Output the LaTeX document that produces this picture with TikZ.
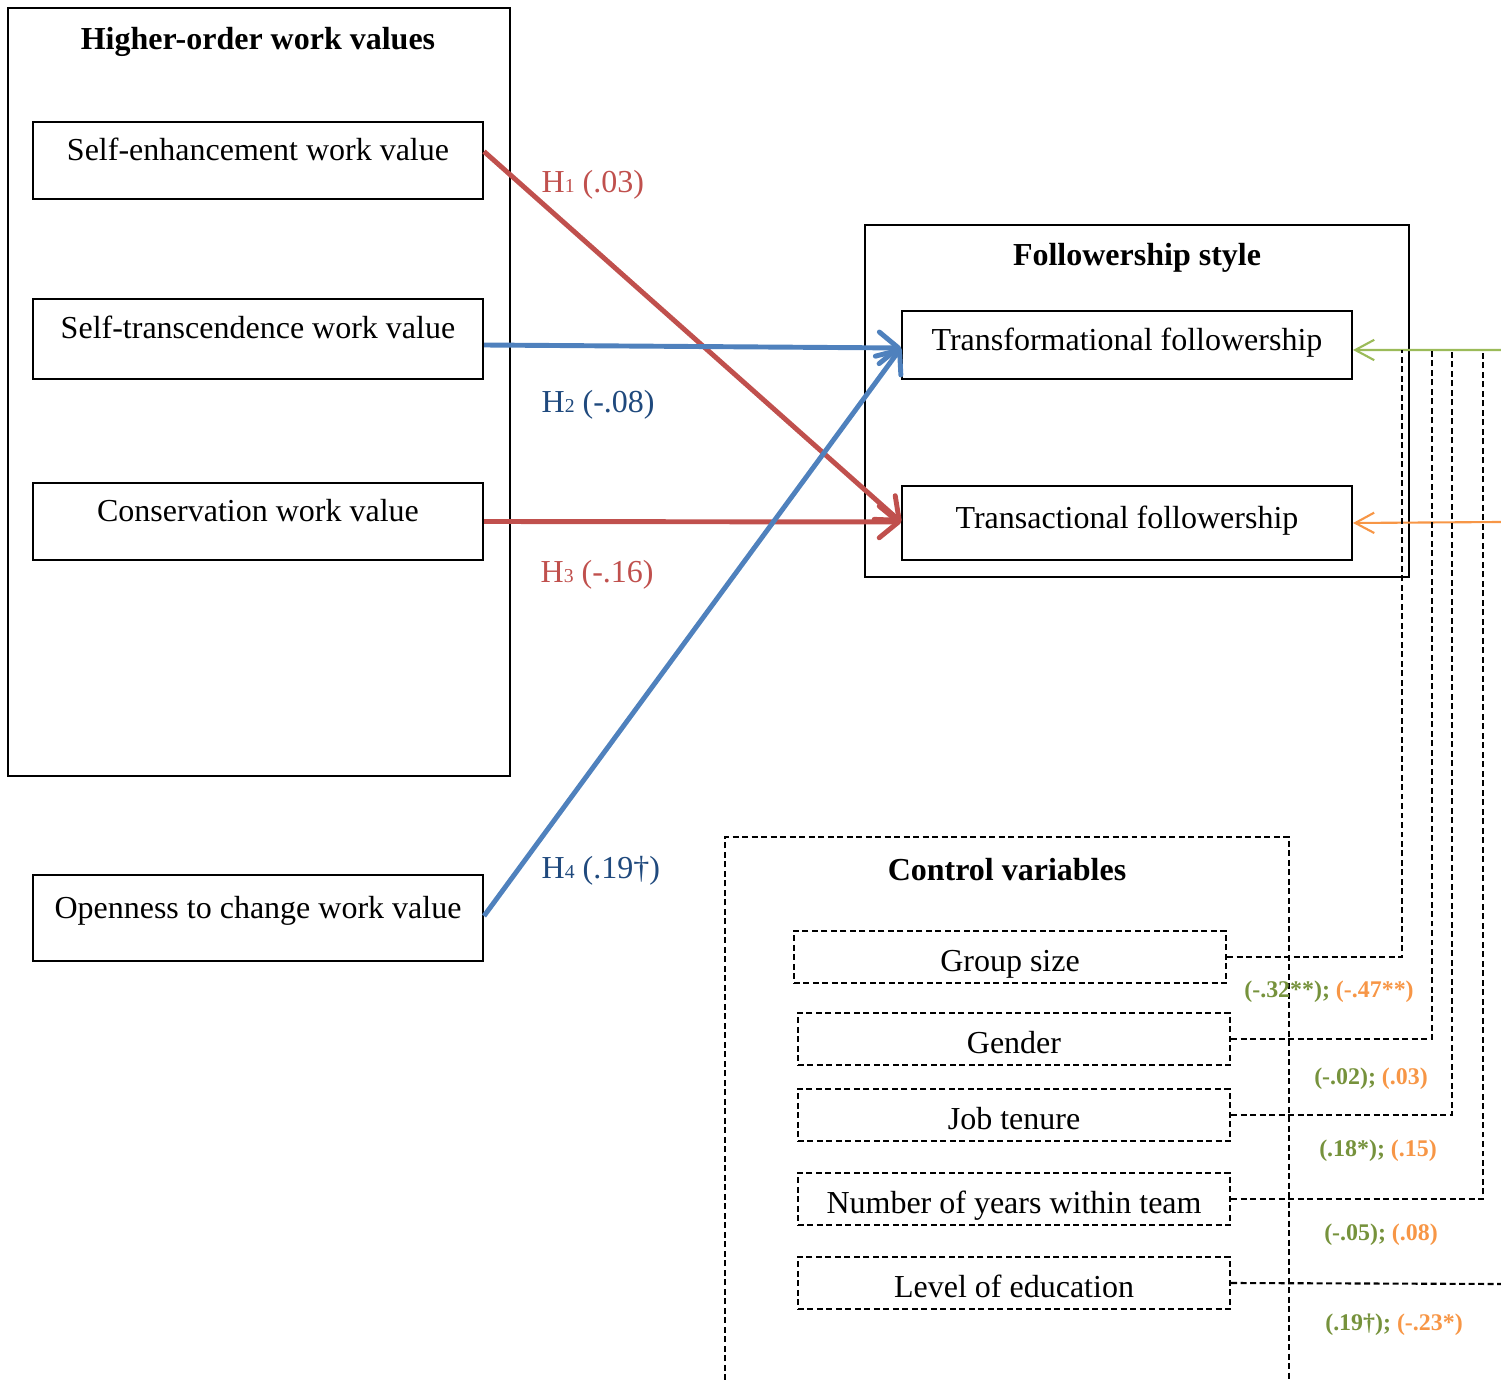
\documentclass[tikz,border=0pt]{standalone}
\usepackage{fontspec}
\setmainfont{Liberation Serif}
\usetikzlibrary{arrows.meta,positioning}
\definecolor{hred}{HTML}{C0504D}
\definecolor{hblue}{HTML}{4F81BD}
\definecolor{hnavy}{HTML}{1F497D}
\definecolor{cgreen}{HTML}{9BBB59}
\definecolor{cgreentxt}{HTML}{76923C}
\definecolor{corange}{HTML}{F79646}
\newcommand{\hsub}[1]{{\fontsize{5.6}{6}\selectfont #1}}

\begin{document}
\begin{tikzpicture}[x=0.01cm,y=-0.01cm,inner sep=0mm,font=\fontsize{9.1}{11}\selectfont,
  frame/.style={draw,line width=0.5pt},
  valbox/.style={frame,minimum width=4.5cm,text height=0.7em,text depth=0.7em},
  folbox/.style={frame,minimum width=4.5cm,text height=0.8em,text depth=0.5em},
  dashln/.style={line width=0.6pt,dash pattern=on 1.7pt off 1pt},
  ctrlbox/.style={draw,dashln,minimum width=4.32cm,minimum height=0.52cm,text height=0.8em,text depth=0pt},
  hyp/.style={line width=1.4pt,-{Straight Barb[length=5.5pt,width=9pt,round]}},
  ctl/.style={line width=0.6pt,-{Straight Barb[length=5.4pt,width=5.8pt]}},
  coef/.style={font=\fontsize{6.8}{8}\selectfont\bfseries}]
\useasboundingbox (0,0) rectangle (1501,1380);

% work values
\node[frame,minimum width=5.02cm,minimum height=7.68cm] (hov) at (259,392) {};
\node[font=\fontsize{9.1}{11}\selectfont\bfseries] (hovt) at (258,42) {Higher-order work values};
\node[valbox,minimum height=0.77cm] (se) at (258,160.5) {Self-enhancement work value};
\node[valbox,minimum height=0.80cm] (st) at (258,339) {Self-transcendence work value};
\node[valbox,minimum height=0.77cm] (cons) at (258,521.5) {Conservation work value};
\node[valbox,minimum height=0.86cm] (open) at (258,918) {Openness to change work value};

% followership
\node[frame,minimum width=5.44cm,minimum height=3.52cm] (fol) at (1137,401) {};
\node[font=\fontsize{9.1}{11}\selectfont\bfseries] (folt) at (1137,258) {Followership style};
\node[folbox,minimum height=0.68cm] (tr) at (1127,345) {Transformational followership};
\node[folbox,minimum height=0.74cm] (ta) at (1127,523) {Transactional followership};

% hypotheses
\draw[hyp,hred] ([yshift=0.09cm]se.east) -- ([yshift=0.01cm]ta.west);
\draw[hyp,hblue] ([yshift=-0.06cm]st.east) -- ([yshift=-0.03cm]tr.west);
\draw[hyp,hred] (cons.east) -- ([yshift=0.01cm]ta.west);
\draw[hyp,hblue] ([yshift=0.02cm]open.east) -- ([yshift=-0.03cm]tr.west);
\node[hred,anchor=west] (h1) at (541,185) {H\hsub{1} (.03)};
\node[hnavy,anchor=west] (h2) at (541,405) {H\hsub{2} (-.08)};
\node[hred,anchor=west] (h3) at (540,575) {H\hsub{3} (-.16)};
\node[hnavy,anchor=west] (h4) at (541,871) {H\hsub{4} (.19†)};

% control variables
\draw[dashln] (725,1380) -- (725,837) -- (1289,837) -- (1289,1380);
\node[font=\fontsize{9.1}{11}\selectfont\bfseries] (ctrlt) at (1007,870) {Control variables};
\node[ctrlbox] (gs) at (1010,957) {Group size};
\node[ctrlbox] (gen) at (1014,1039) {Gender};
\node[ctrlbox] (jt) at (1014,1115) {Job tenure};
\node[ctrlbox] (ny) at (1014,1199) {Number of years within team};
\node[ctrlbox] (le) at (1014,1283) {Level of education};

\coordinate (gin) at (1501,350);
\coordinate (oin) at (1501,522);
\coordinate (c1) at (1402,350);
\coordinate (c2) at (1432,350);
\coordinate (c3) at (1452,350);
\coordinate (c4) at (1483,350);
\coordinate (c5) at (1501,1284);
\draw[ctl,cgreen] (gin) -- ([yshift=-0.05cm]tr.east);
\draw[ctl,corange] (oin) -- (ta.east);
\draw[dashln] (gs.east) -| (c1);
\draw[dashln] (gen.east) -| (c2);
\draw[dashln] (jt.east) -| (c3);
\draw[dashln] (ny.east) -| (c4);
\draw[dashln] (le.east) -- (c5);

\node[coef] (k1) at (1329,992) {\textcolor{cgreentxt}{(-.32**);} \textcolor{corange}{(-.47**)}};
\node[coef] (k2) at (1371,1079) {\textcolor{cgreentxt}{(-.02);} \textcolor{corange}{(.03)}};
\node[coef] (k3) at (1378,1151) {\textcolor{cgreentxt}{(.18*);} \textcolor{corange}{(.15)}};
\node[coef] (k4) at (1381,1235) {\textcolor{cgreentxt}{(-.05);} \textcolor{corange}{(.08)}};
\node[coef] (k5) at (1394,1325) {\textcolor{cgreentxt}{(.19†);} \textcolor{corange}{(-.23*)}};
\end{tikzpicture}
\end{document}
